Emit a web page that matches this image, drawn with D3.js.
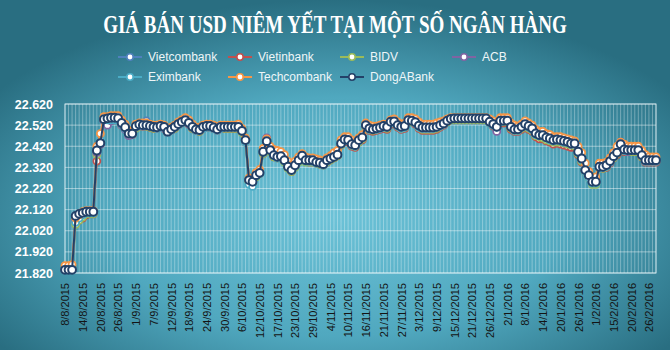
<!DOCTYPE html>
<html><head><meta charset="utf-8">
<script src="https://cdn.jsdelivr.net/npm/d3@7"></script>
<style>html,body{margin:0;padding:0;background:#2c7b8f;}svg{display:block;}</style>
</head><body>
<svg id="chart" width="670" height="350"></svg>
<script>
// ---------------- DATA ----------------
const title = "GIÁ BÁN USD NIÊM YẾT TẠI MỘT SỐ NGÂN HÀNG";
const categories = (
 "8/8/2015 10/8/2015 11/8/2015 12/8/2015 13/8/2015 14/8/2015 15/8/2015 17/8/2015 18/8/2015 19/8/2015 " +
 "20/8/2015 21/8/2015 22/8/2015 24/8/2015 25/8/2015 26/8/2015 27/8/2015 28/8/2015 29/8/2015 31/8/2015 " +
 "1/9/2015 2/9/2015 3/9/2015 4/9/2015 5/9/2015 7/9/2015 8/9/2015 9/9/2015 10/9/2015 11/9/2015 " +
 "12/9/2015 14/9/2015 15/9/2015 16/9/2015 17/9/2015 18/9/2015 19/9/2015 21/9/2015 22/9/2015 23/9/2015 " +
 "24/9/2015 25/9/2015 26/9/2015 28/9/2015 29/9/2015 30/9/2015 1/10/2015 2/10/2015 3/10/2015 5/10/2015 " +
 "6/10/2015 7/10/2015 8/10/2015 9/10/2015 10/10/2015 12/10/2015 13/10/2015 14/10/2015 15/10/2015 16/10/2015 " +
 "17/10/2015 19/10/2015 20/10/2015 21/10/2015 22/10/2015 23/10/2015 24/10/2015 26/10/2015 27/10/2015 28/10/2015 " +
 "29/10/2015 30/10/2015 31/10/2015 2/11/2015 3/11/2015 4/11/2015 5/11/2015 6/11/2015 7/11/2015 9/11/2015 " +
 "10/11/2015 11/11/2015 12/11/2015 13/11/2015 14/11/2015 16/11/2015 17/11/2015 18/11/2015 19/11/2015 20/11/2015 " +
 "21/11/2015 23/11/2015 24/11/2015 25/11/2015 26/11/2015 27/11/2015 28/11/2015 30/11/2015 1/12/2015 2/12/2015 " +
 "3/12/2015 4/12/2015 5/12/2015 7/12/2015 8/12/2015 9/12/2015 10/12/2015 11/12/2015 12/12/2015 14/12/2015 " +
 "15/12/2015 16/12/2015 17/12/2015 18/12/2015 19/12/2015 21/12/2015 22/12/2015 23/12/2015 24/12/2015 25/12/2015 " +
 "26/12/2015 28/12/2015 29/12/2015 30/12/2015 31/12/2015 2/1/2016 4/1/2016 5/1/2016 6/1/2016 7/1/2016 " +
 "8/1/2016 9/1/2016 11/1/2016 12/1/2016 13/1/2016 14/1/2016 15/1/2016 16/1/2016 18/1/2016 19/1/2016 " +
 "20/1/2016 21/1/2016 22/1/2016 23/1/2016 25/1/2016 26/1/2016 27/1/2016 28/1/2016 29/1/2016 30/1/2016 " +
 "1/2/2016 2/2/2016 3/2/2016 4/2/2016 5/2/2016 15/2/2016 16/2/2016 17/2/2016 18/2/2016 19/2/2016 " +
 "20/2/2016 22/2/2016 23/2/2016 24/2/2016 25/2/2016 26/2/2016 27/2/2016 29/2/2016").split(" ");

const tickLabels = ["8/8/2015","14/8/2015","20/8/2015","26/8/2015","1/9/2015","7/9/2015","12/9/2015","18/9/2015",
 "24/9/2015","30/9/2015","6/10/2015","12/10/2015","17/10/2015","23/10/2015","29/10/2015","4/11/2015","10/11/2015",
 "16/11/2015","21/11/2015","27/11/2015","3/12/2015","9/12/2015","15/12/2015","21/12/2015","26/12/2015","2/1/2016",
 "8/1/2016","14/1/2016","20/1/2016","26/1/2016","1/2/2016","15/2/2016","20/2/2016","26/2/2016"];

const yTicks = [21820,21920,22020,22120,22220,22320,22420,22520,22620];

const seriesNames = ["Vietcombank","Vietinbank","BIDV","ACB","Eximbank","Techcombank","DongABank"];

const vietcombank = [
 21840,21840,21840,22080,22100,22100,22105,22105,22105,22390,
 22440,22545,22545,22545,22545,22545,22520,22505,22490,22490,
 22510,22520,22525,22540,22520,22515,22510,22515,22510,22490,
 22500,22510,22525,22535,22540,22530,22515,22500,22500,22510,
 22515,22515,22510,22500,22510,22510,22510,22510,22510,22510,
 22490,22450,22260,22250,22280,22290,22390,22450,22410,22380,
 22370,22370,22360,22330,22310,22330,22350,22370,22355,22350,
 22350,22345,22340,22335,22350,22360,22370,22380,22430,22450,
 22450,22430,22425,22445,22460,22515,22505,22500,22505,22510,
 22515,22510,22530,22535,22520,22510,22515,22540,22540,22530,
 22515,22505,22505,22505,22505,22510,22515,22525,22540,22545,
 22545,22545,22545,22545,22545,22545,22545,22545,22545,22545,
 22530,22520,22510,22535,22540,22540,22510,22500,22500,22510,
 22520,22510,22500,22480,22470,22470,22460,22455,22445,22450,
 22445,22440,22435,22430,22430,22390,22360,22300,22280,22250,
 22250,22320,22320,22330,22345,22370,22390,22425,22405,22400,
 22400,22400,22400,22375,22355,22350,22350,22350];
const vietinbank = [
 21840,21840,21840,22060,22070,22080,22095,22100,22100,22350,
 22430,22545,22545,22545,22545,22545,22525,22505,22480,22480,
 22510,22515,22515,22515,22510,22505,22505,22510,22505,22485,
 22495,22505,22520,22530,22540,22525,22505,22495,22490,22505,
 22510,22510,22505,22495,22505,22505,22505,22505,22505,22505,
 22490,22440,22255,22250,22280,22290,22385,22440,22400,22370,
 22365,22365,22350,22320,22300,22325,22350,22370,22350,22345,
 22345,22340,22335,22330,22345,22355,22365,22375,22425,22445,
 22440,22420,22415,22440,22450,22510,22495,22490,22495,22500,
 22505,22500,22525,22525,22510,22500,22505,22535,22535,22525,
 22505,22495,22495,22495,22495,22500,22510,22520,22535,22545,
 22545,22545,22545,22545,22545,22545,22545,22545,22545,22545,
 22530,22515,22505,22530,22530,22530,22500,22490,22490,22500,
 22510,22500,22490,22465,22455,22455,22445,22440,22430,22435,
 22430,22425,22420,22415,22415,22380,22345,22300,22300,22250,
 22250,22315,22315,22320,22340,22365,22380,22420,22395,22395,
 22395,22395,22395,22370,22345,22345,22345,22345];
const bidv = [
 21840,21840,21840,22050,22070,22085,22100,22100,22100,22380,
 22440,22545,22545,22545,22545,22545,22520,22505,22480,22475,
 22505,22515,22515,22515,22510,22505,22505,22510,22505,22485,
 22495,22505,22520,22530,22540,22525,22505,22495,22490,22505,
 22510,22510,22505,22495,22505,22505,22505,22505,22505,22505,
 22485,22445,22250,22245,22275,22290,22385,22440,22395,22370,
 22365,22365,22345,22315,22300,22320,22345,22365,22345,22345,
 22345,22340,22335,22330,22345,22355,22365,22375,22425,22445,
 22445,22425,22420,22440,22455,22510,22500,22495,22500,22505,
 22510,22505,22530,22530,22515,22505,22510,22540,22535,22530,
 22510,22500,22500,22500,22500,22505,22515,22525,22535,22545,
 22545,22545,22545,22545,22545,22545,22545,22545,22545,22545,
 22530,22520,22505,22535,22535,22535,22505,22495,22495,22505,
 22515,22505,22495,22470,22465,22460,22450,22445,22440,22440,
 22440,22435,22430,22425,22420,22385,22350,22300,22270,22240,
 22240,22315,22315,22325,22345,22365,22385,22420,22400,22395,
 22395,22395,22395,22370,22350,22350,22350,22350];
const acb = [
 21840,21840,21840,22070,22090,22100,22105,22105,22105,22390,
 22430,22540,22520,22540,22545,22545,22520,22500,22470,22475,
 22510,22520,22515,22520,22515,22510,22505,22510,22505,22485,
 22495,22510,22520,22530,22540,22525,22510,22495,22495,22505,
 22510,22510,22505,22495,22505,22510,22510,22510,22510,22510,
 22490,22450,22265,22255,22285,22300,22400,22460,22405,22380,
 22370,22370,22355,22325,22310,22330,22355,22375,22355,22350,
 22350,22345,22340,22335,22350,22360,22370,22380,22430,22450,
 22450,22430,22425,22445,22460,22515,22505,22500,22505,22505,
 22515,22510,22535,22535,22520,22510,22515,22540,22540,22530,
 22515,22505,22505,22505,22505,22510,22520,22525,22540,22550,
 22550,22550,22550,22550,22550,22550,22550,22550,22550,22550,
 22535,22520,22490,22540,22540,22540,22510,22500,22500,22510,
 22520,22510,22500,22478,22470,22470,22460,22455,22445,22450,
 22445,22440,22438,22430,22430,22395,22360,22305,22280,22250,
 22250,22320,22320,22330,22345,22370,22395,22440,22405,22395,
 22400,22400,22400,22375,22350,22350,22350,22350];
const eximbank = [
 21840,21840,21840,22060,22080,22095,22105,22105,22105,22400,
 22450,22545,22545,22545,22545,22545,22525,22505,22480,22480,
 22510,22520,22520,22520,22515,22510,22505,22510,22510,22485,
 22495,22510,22520,22530,22540,22530,22510,22495,22495,22505,
 22510,22510,22505,22495,22505,22510,22510,22510,22510,22510,
 22490,22440,22240,22230,22280,22290,22390,22440,22400,22375,
 22365,22370,22350,22320,22305,22325,22350,22370,22350,22350,
 22350,22340,22340,22330,22350,22360,22370,22380,22430,22450,
 22445,22425,22420,22445,22460,22515,22500,22500,22500,22505,
 22510,22510,22530,22535,22515,22505,22510,22540,22540,22530,
 22510,22505,22505,22505,22505,22510,22515,22525,22540,22550,
 22550,22550,22550,22550,22550,22550,22550,22550,22550,22550,
 22530,22520,22510,22535,22540,22540,22510,22495,22495,22510,
 22520,22510,22500,22475,22470,22470,22460,22450,22445,22450,
 22445,22440,22438,22430,22430,22390,22355,22300,22270,22245,
 22245,22315,22320,22325,22345,22370,22390,22425,22400,22400,
 22400,22400,22400,22375,22350,22350,22350,22350];
const techcombank = [
 21855,21855,21860,22080,22095,22110,22115,22115,22115,22420,
 22480,22560,22560,22565,22565,22565,22545,22525,22495,22490,
 22525,22530,22530,22530,22525,22520,22520,22525,22520,22500,
 22510,22520,22535,22545,22555,22545,22525,22510,22510,22520,
 22525,22525,22520,22510,22520,22520,22520,22520,22520,22525,
 22505,22460,22270,22265,22295,22310,22410,22455,22420,22405,
 22400,22395,22380,22350,22330,22350,22370,22385,22370,22365,
 22365,22360,22355,22350,22365,22375,22390,22400,22450,22465,
 22465,22450,22440,22460,22475,22530,22520,22515,22515,22520,
 22525,22525,22545,22550,22535,22525,22530,22555,22555,22550,
 22535,22525,22525,22525,22525,22530,22535,22540,22550,22555,
 22555,22555,22555,22555,22555,22555,22555,22555,22555,22555,
 22550,22540,22530,22555,22555,22555,22530,22520,22515,22525,
 22540,22530,22520,22500,22490,22490,22480,22475,22465,22465,
 22465,22460,22455,22450,22445,22420,22390,22340,22300,22270,
 22275,22340,22340,22345,22365,22390,22420,22440,22430,22420,
 22420,22420,22420,22400,22380,22370,22370,22370];
const dongabank = [
 21835,21835,21835,22090,22100,22105,22110,22110,22110,22400,
 22435,22548,22552,22555,22555,22553,22530,22510,22480,22480,
 22515,22523,22520,22520,22516,22512,22510,22516,22512,22489,
 22500,22512,22525,22535,22544,22531,22512,22500,22497,22512,
 22516,22516,22509,22500,22512,22512,22512,22512,22512,22512,
 22493,22449,22260,22252,22283,22294,22394,22444,22402,22378,
 22370,22373,22354,22323,22307,22330,22354,22375,22354,22354,
 22354,22345,22342,22335,22354,22362,22370,22380,22433,22452,
 22450,22430,22425,22449,22462,22520,22505,22500,22505,22509,
 22516,22512,22536,22538,22520,22512,22516,22544,22541,22534,
 22518,22509,22509,22509,22509,22512,22520,22528,22541,22550,
 22552,22552,22552,22552,22552,22552,22552,22552,22552,22552,
 22536,22525,22512,22541,22541,22541,22512,22500,22500,22512,
 22525,22516,22505,22481,22473,22473,22462,22457,22449,22452,
 22449,22445,22441,22433,22433,22394,22362,22307,22283,22252,
 22252,22323,22323,22331,22350,22373,22390,22430,22405,22402,
 22402,22402,22402,22378,22354,22354,22354,22354];

const seriesValues = [vietcombank, vietinbank, bidv, acb, eximbank, techcombank, dongabank];
const seriesColors = ["#4f81bd","#c0504d","#9bbb59","#8064a2","#4bacc6","#f79646","#234168"];

// ---------------- DRAW ----------------
const W = 670, H = 350;
const svg = d3.select("#chart");
const defs = svg.append("defs");
const bg = defs.append("radialGradient").attr("id","bg")
  .attr("cx","50%").attr("cy","62%").attr("r","62%").attr("fx","50%").attr("fy","62%");
bg.append("stop").attr("offset","0%").attr("stop-color","#6cc2d7");
bg.append("stop").attr("offset","55%").attr("stop-color","#50a8bf");
bg.append("stop").attr("offset","100%").attr("stop-color","#296e81");
svg.append("rect").attr("width",W).attr("height",H).attr("fill","url(#bg)");

const plot = {l:65, r:656, t:104, b:273};
const x = d3.scalePoint().domain(categories).range([plot.l, plot.r]);
const y = d3.scaleLinear().domain([21820, 22620]).range([plot.b, plot.t]);

// gridlines
const grid = svg.append("g");
grid.selectAll("line.v").data(categories).join("line")
  .attr("x1",d=>x(d)).attr("x2",d=>x(d)).attr("y1",plot.t).attr("y2",plot.b)
  .attr("stroke","rgba(255,255,255,0.32)").attr("stroke-width",1);
grid.selectAll("line.h").data(yTicks).join("line")
  .attr("x1",plot.l).attr("x2",plot.r).attr("y1",d=>y(d)).attr("y2",d=>y(d))
  .attr("stroke","rgba(255,255,255,0.45)").attr("stroke-width",1);
svg.append("rect").attr("x",plot.l).attr("y",plot.t).attr("width",plot.r-plot.l).attr("height",plot.b-plot.t)
  .attr("fill","none").attr("stroke","rgba(230,245,250,0.75)").attr("stroke-width",1);

// y axis
const fmt = v => d3.format(",")(v).replace(",", ".");
const yAxis = d3.axisLeft(y).tickValues(yTicks).tickFormat(fmt).tickSize(0).tickPadding(12);
const ya = svg.append("g").attr("transform",`translate(${plot.l},0)`).call(yAxis);
ya.select(".domain").remove();
ya.selectAll("text").attr("fill","#ffffff").attr("font-family","'Liberation Sans', Arial, sans-serif")
  .attr("font-weight","bold").attr("font-size","12.5px");

// x axis
const xAxis = d3.axisBottom(x).tickValues(tickLabels).tickSize(0);
const xa = svg.append("g").attr("transform",`translate(0,${plot.b})`).call(xAxis);
xa.select(".domain").remove();
xa.selectAll("text")
  .attr("fill","#141414").attr("font-family","'Liberation Sans', Arial, sans-serif").attr("font-size","11px")
  .attr("transform","rotate(-90)").attr("text-anchor","end")
  .attr("x",-10).attr("y",0).attr("dy","0.35em");

// series
const line = d3.line().x((d,i)=>x(categories[i])).y(d=>y(d));
seriesValues.forEach((vals, si) => {
  const g = svg.append("g");
  const isTop = si === seriesValues.length - 1;
  g.append("path").datum(vals).attr("d", line).attr("fill","none")
    .attr("stroke", seriesColors[si]).attr("stroke-width", 2).attr("stroke-linejoin","round");
  g.selectAll("circle").data(vals).join("circle")
    .attr("cx",(d,i)=>x(categories[i])).attr("cy",d=>y(d))
    .attr("r", isTop ? 3.9 : 3.5)
    .attr("fill","#ffffff").attr("stroke",seriesColors[si]).attr("stroke-width", isTop ? 2 : 1.8);
});

// title (condensed by horizontal scaling to the reference width)
const tg = svg.append("g");
const tt = tg.append("text").attr("x",0).attr("y",0).attr("text-anchor","middle")
  .attr("font-family","'Liberation Serif', 'DejaVu Serif', serif").attr("font-weight","bold")
  .attr("font-size","26px").attr("fill","#ffffff").text(title);
const natural = tt.node().getComputedTextLength() || 600;
const sx = Math.min(1, 464 / natural);
tg.attr("transform", `translate(335,33) scale(${sx},1)`);

// legend
const legendPos = [[130,57],[240,57],[352,57],[464,57],[130,77],[240,77],[352,77]];
const lg = svg.append("g");
seriesNames.forEach((name, i) => {
  const [cx, cy] = legendPos[i];
  lg.append("line").attr("x1",cx-12).attr("x2",cx+12).attr("y1",cy).attr("y2",cy)
    .attr("stroke",seriesColors[i]).attr("stroke-width",2);
  lg.append("circle").attr("cx",cx).attr("cy",cy).attr("r",3.2)
    .attr("fill","#ffffff").attr("stroke",seriesColors[i]).attr("stroke-width",1.6);
  lg.append("text").attr("x",cx+18).attr("y",cy).attr("dy","0.35em")
    .attr("font-family","'Liberation Sans', Arial, sans-serif").attr("font-size","12px")
    .attr("fill","#eef6f8").text(name);
});
</script>
</body></html>
